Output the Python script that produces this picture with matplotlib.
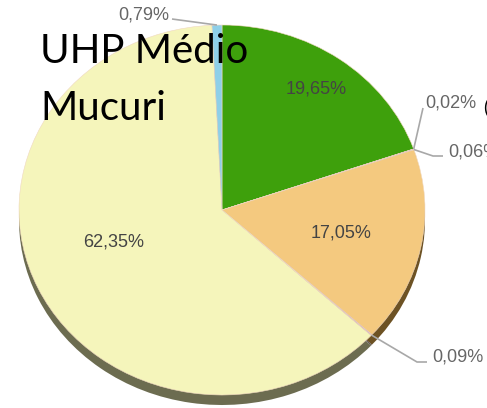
import numpy as np
import matplotlib.pyplot as plt

# slices, clockwise from 12 o'clock
shares = [19.65, 0.02, 0.06, 17.05, 0.09, 62.35, 0.79]
labels = ["19,65%", "0,02%", "0,06%", "17,05%", "0,09%", "62,35%", "0,79%"]
colors = ["#3ea00c", "#d84a2a", "#7a5aa8", "#f4c97f", "#c8a0d8", "#f5f5bb", "#8ecfe8"]
shadow = ["#2c4a14", "#5a3a20", "#4a3a50", "#6d5224", "#5a5050", "#6c6c50", "#4a6470"]
inside = {0: 0.8, 3: 0.6, 5: 0.56}

W, H = 487, 408
CX, CY, RX, RY = 222, 210, 203, 185


def px(x, y):
    # pixel (from top-left) -> data coords of the pie axes
    return (x - CX) / RX, (CY - y) / RY


fig = plt.figure(figsize=(W / 100, H / 100), dpi=100)
ax = fig.add_axes([0, 0, 1, 1])

# depth of the "3d" pie: a darker copy shifted down
ax.pie(shares, colors=shadow, startangle=90, counterclock=False, radius=1,
       center=(0, -10 / RY), normalize=True,
       wedgeprops=dict(linewidth=0))
wedges, _ = ax.pie(shares, colors=colors, startangle=90, counterclock=False,
                   radius=1, center=(0, 0), normalize=True,
                   wedgeprops=dict(linewidth=0.4, edgecolor="#f0d8c0"))

ax.set_aspect("auto")
ax.set_xlim(-CX / RX, (W - CX) / RX)
ax.set_ylim((CY - H) / RY, CY / RY)
ax.axis("off")

lab_font = dict(family=["Liberation Sans", "DejaVu Sans"], fontsize=13)

# labels inside the big slices
for i, w in enumerate(wedges):
    if i in inside:
        a = np.deg2rad((w.theta1 + w.theta2) / 2 - (7 if i == 5 else 0))
        r = inside[i]
        ax.text(r * np.cos(a), r * np.sin(a), labels[i], ha="center",
                va="center", color="#444444", **lab_font)

# outside labels with leader lines: (slice, knee points, text anchor, ha)
callouts = [
    (6, [(172, 19)], (169, 15), "right"),
    (1, [(423, 108)], (425, 103), "left"),
    (2, [(433, 156), (443, 156)], (448, 152), "left"),
    (4, [(417, 362), (427, 362)], (432, 357), "left"),
]
for i, knees, (tx, ty), ha in callouts:
    w = wedges[i]
    a = np.deg2rad((w.theta1 + w.theta2) / 2)
    xs = [np.cos(a)] + [px(*k)[0] for k in knees]
    ys = [np.sin(a)] + [px(*k)[1] for k in knees]
    ax.plot(xs, ys, color="#a8a8a8", lw=1.2, solid_capstyle="butt")
    x, y = px(tx, ty)
    ax.text(x, y, labels[i], ha=ha, va="center", color="#666666", **lab_font)

# title on top of the pie
fig.text(40 / W, 1 - 63 / H, "UHP Médio", ha="left", va="baseline",
         fontsize=29, family="Lato", color="black")
fig.text(40 / W, 1 - 120 / H, "Mucuri", ha="left", va="baseline",
         fontsize=29, family="Lato", color="black")
fig.text(483 / W, 1 - 113 / H, "(", ha="left", va="baseline",
         fontsize=14, family="Lato", color="black")

fig.savefig("out.png", dpi=100)
